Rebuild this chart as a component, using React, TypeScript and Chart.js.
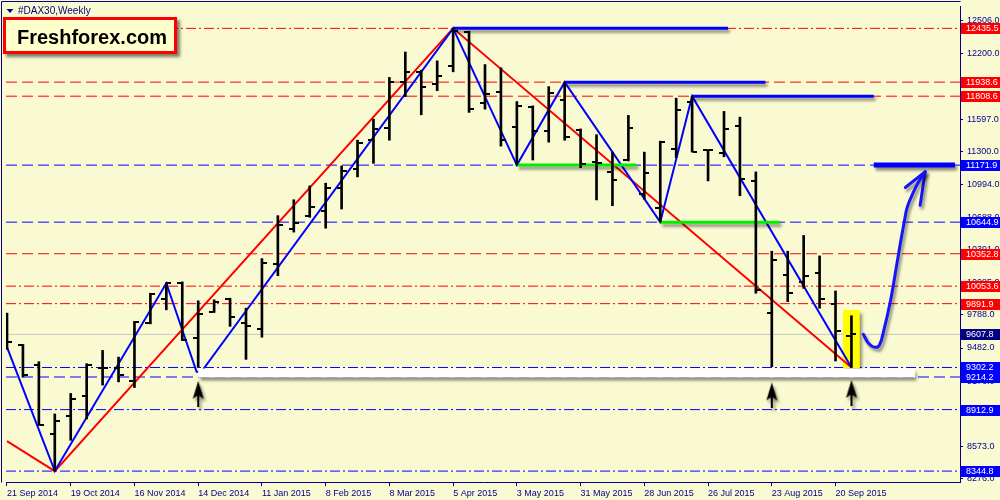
import React, { useEffect, useRef } from 'react';
import { Chart, registerables } from 'chart.js';

Chart.register(...registerables);

// ---------------- data ----------------
// weekly bars, index 0 = week of 21 Sep 2014
const weekTickIndex = [0, 4, 8, 12, 16, 20, 24, 28, 32, 36, 40, 44, 48, 52];
const weekTickLabels = ['21 Sep 2014', '19 Oct 2014', '16 Nov 2014', '14 Dec 2014', '11 Jan 2015', '8 Feb 2015', '8 Mar 2015', '5 Apr 2015', '3 May 2015', '31 May 2015', '28 Jun 2015', '26 Jul 2015', '23 Aug 2015', '20 Sep 2015'];

const openPrices = [9740, 9508, 9325, 8690, 8858, 9035, 9300, 9295, 9178, 9713, 9932, 10085, 9575, 9813, 9936, 9713, 9661, 10257, 10577, 10699, 10751, 10959, 11139, 11402, 11515, 11942, 12034, 11921, 12086, 12401, 11744, 11851, 11524, 11713, 11484, 11774, 11499, 11200, 11109, 11219, 10904, 10773, 11322, 11759, 11307, 11286, 11536, 11026, 9804, 10156, 10095, 10171, 9890, 9597];
const highPrices = [9804, 9515, 9355, 8873, 9062, 9337, 9460, 9398, 9728, 9988, 10085, 10093, 9918, 9927, 9942, 9850, 10308, 10705, 10852, 10980, 11005, 11164, 11402, 11597, 11982, 12217, 12049, 12135, 12435.5, 12410, 12101, 12071, 11759, 11719, 11897, 11938.6, 11506, 11453, 11292, 11631, 11292, 11393, 11790, 11808.6, 11316, 11668, 11615, 11109, 10376, 10376, 10522, 10333, 10009, 9780];
const lowPrices = [9469, 9214.2, 8766, 8344.8, 8629, 8827, 9139, 9169, 9117, 9705, 9835, 9551, 9302.2, 9810, 9682, 9377, 9582, 10150, 10553, 10690, 10589, 10766, 11063, 11188, 11402, 11805, 11637, 11860, 12034, 11659, 11689, 11347, 11171.9, 11219, 11384, 11402, 11148, 10850, 10797, 11210, 10858, 10644.9, 11240, 11292, 11026, 11249, 10889, 9988, 9310, 9911, 10033, 9850, 9362, 9302.2];
const closePrices = [9538, 9231, 8772, 8806, 9010, 9325, 9295, 9233, 9719, 9978, 10079, 9560, 9795, 9911, 9765, 9682, 10271, 10620, 10638, 10782, 10965, 11118, 11377, 11506, 11942, 12034, 11890, 11994, 12415, 11689, 11829, 11402, 11719, 11484, 11842, 11432, 11185, 11195, 11032, 11515, 11096, 11384, 11682, 11295, 11316, 11508, 11041, 10019, 10299, 9994, 10147, 9932, 9637, 9607.8];

const priceTicks = [12506, 12200, 11903, 11597, 11300, 10994, 10688, 10391, 10085, 9788, 9482, 9176, 8879, 8573, 8276];

const levelValues = [12435.5, 11938.6, 11808.6, 11171.9, 10644.9, 10352.8, 10053.6, 9891.9, 9607.8, 9302.2, 9214.2, 8912.9, 8344.8];

const redZigX = [0, 3, 28, 53];
const redZigY = [8622, 8344.8, 12435.5, 9302.2];
const blueZigX = [0, 3, 10, 11.9, 12.2, 28, 32, 35, 41, 43, 53];
const blueZigY = [9490, 8344.8, 10080, 9262, 9262, 12435.5, 11171.9, 11938.6, 10644.9, 11808.6, 9302.2];

const resistX = [[28, 45.25], [35, 47.6], [43, 54.4]];
const resistY = [12435.5, 11938.6, 11808.6];
const targetX = [54.4, 59.5];
const targetY = 11171.9;
const supportX = [[32, 39.5], [41, 48.5]];
const supportY = [11171.9, 10644.9];
const floorX = [12, 57];
const floorY = 9250;

const highlightWeek = 53;
const highlightRange = [9298, 9829];

const arrowWeeks = [12, 48, 53];
const arrowPrices = [9059, 9044, 9068];

const curveX = [53.75, 54.06, 54.44, 54.75, 55.06, 55.44, 55.81, 56.06, 56.31, 56.5, 56.88, 57.19, 57.63];
const curveY = [9609, 9527, 9490, 9508, 9664, 9911, 10223, 10443, 10644, 10782, 10919, 11011, 11112];
const headX = [56.38, 57.63, 57.31];
const headY = [10965, 11112, 10800];

// ---------------- styling ----------------
const X_MIN = -0.0625;
const X_MAX = 59.8125;
const Y_MIN = 8244;
const Y_MAX = 12642;
const BG = '#fafad2';
const NAVY = '#00008b';
const RED = '#ff0000';
const BLUE = '#0000ff';
const AXIS_FONT = '"Liberation Sans", Arial, sans-serif';
const AXIS_SIZE = 9;
const DASH = [11, 5];
const DASHDOT = [10, 3, 2, 3];
const levelLineColors = [RED, RED, RED, BLUE, BLUE, RED, RED, RED, '#c8c8c8', BLUE, BLUE, BLUE, BLUE];
const levelDashes = [DASHDOT, DASH, DASH, DASH, DASH, DASH, DASHDOT, DASHDOT, [], DASHDOT, DASH, DASHDOT, DASHDOT];
const levelBoxColors = [RED, RED, RED, BLUE, BLUE, RED, RED, RED, '#000080', BLUE, BLUE, BLUE, BLUE];

const pts = (xs: number[], ys: number[]) => xs.map((x, k) => ({ x, y: ys[k] }));

function makeArrowImage() {
  const c = document.createElement('canvas');
  c.width = 12;
  c.height = 26;
  const g = c.getContext('2d')!;
  g.fillStyle = '#000000';
  g.beginPath();
  g.moveTo(6, 0);
  g.lineTo(11.5, 18);
  g.lineTo(7, 15);
  g.lineTo(7, 26);
  g.lineTo(5, 26);
  g.lineTo(5, 15);
  g.lineTo(0.5, 18);
  g.closePath();
  g.fill();
  return c;
}

const shadowPlugin = {
  id: 'dsShadow',
  beforeDatasetDraw(chart: any, args: any) {
    const ds = chart.data.datasets[args.index];
    if (ds.shadow) {
      const ctx = chart.ctx;
      ctx.save();
      ctx.shadowColor = 'rgba(0,0,0,0.45)';
      ctx.shadowBlur = 3;
      ctx.shadowOffsetX = 2;
      ctx.shadowOffsetY = 3;
    }
  },
  afterDatasetDraw(chart: any, args: any) {
    const ds = chart.data.datasets[args.index];
    if (ds.shadow) chart.ctx.restore();
    if (ds.ohlcTicks) {
      const ctx = chart.ctx;
      const xs = chart.scales.x;
      const ys = chart.scales.y;
      const a = chart.chartArea;
      ctx.save();
      ctx.beginPath();
      ctx.rect(a.left, a.top, a.right - a.left, a.bottom - a.top);
      ctx.clip();
      ctx.fillStyle = '#000000';
      openPrices.forEach((o, i) => {
        const x = Math.round(xs.getPixelForValue(i));
        const yo = Math.round(ys.getPixelForValue(o));
        const yc = Math.round(ys.getPixelForValue(closePrices[i]));
        ctx.fillRect(x - 5, yo - 1, 4, 2);
        ctx.fillRect(x + 1, yc - 1, 4, 2);
      });
      ctx.restore();
    }
  },
};

const decorPlugin = {
  id: 'decor',
  beforeDraw(chart: any) {
    const ctx = chart.ctx;
    ctx.save();
    ctx.fillStyle = BG;
    ctx.fillRect(0, 0, chart.width, chart.height);
    ctx.restore();
  },
  afterDraw(chart: any) {
    const ctx = chart.ctx;
    const a = chart.chartArea;
    const ys = chart.scales.y;
    ctx.save();
    // frame
    ctx.strokeStyle = NAVY;
    ctx.lineWidth = 1;
    ctx.beginPath();
    ctx.moveTo(1.5, a.bottom + 0.5);
    ctx.lineTo(1.5, 1.5);
    ctx.lineTo(a.right + 0.5, 1.5);
    ctx.stroke();

    // level boxes on the price axis
    ctx.font = `${AXIS_SIZE}px ${AXIS_FONT}`;
    ctx.textBaseline = 'middle';
    ctx.textAlign = 'left';
    levelValues.forEach((v, k) => {
      const y = Math.round(ys.getPixelForValue(v));
      ctx.fillStyle = levelBoxColors[k];
      ctx.fillRect(961, y - 5, 39, 11);
      ctx.fillStyle = '#ffffff';
      ctx.fillText(v.toFixed(1), 966, y + 1);
    });

    // title
    ctx.fillStyle = '#000080';
    ctx.beginPath();
    ctx.moveTo(6.5, 9);
    ctx.lineTo(13.5, 9);
    ctx.lineTo(10, 13);
    ctx.closePath();
    ctx.fill();
    ctx.font = '10px "Liberation Sans", Arial, sans-serif';
    ctx.textBaseline = 'middle';
    ctx.fillText('#DAX30,Weekly', 18, 11.5);

    // logo box
    ctx.save();
    ctx.shadowColor = 'rgba(0,0,0,0.5)';
    ctx.shadowBlur = 3;
    ctx.shadowOffsetX = 3;
    ctx.shadowOffsetY = 3;
    ctx.fillStyle = RED;
    ctx.fillRect(3, 17, 174, 37);
    ctx.restore();
    ctx.fillStyle = '#ffffcc';
    ctx.fillRect(6, 20, 168, 31);
    ctx.fillStyle = '#000000';
    ctx.font = 'bold 20px "Liberation Sans", Arial, sans-serif';
    ctx.textBaseline = 'alphabetic';
    ctx.fillText('Freshforex.com', 17, 43.5);
    ctx.restore();
  },
};

export default function App() {
  const ref = useRef<HTMLCanvasElement>(null);

  useEffect(() => {
    const canvas = ref.current;
    if (!canvas) return;
    const arrowImg = makeArrowImage();
    const line = (extra: any) => ({
      type: 'line',
      pointRadius: 0,
      fill: false,
      tension: 0,
      ...extra,
    });

    const datasets: any[] = [];
    levelValues.forEach((v, k) => {
      datasets.push(line({
        data: pts([X_MIN, X_MAX], [v, v]),
        borderColor: levelLineColors[k],
        borderWidth: 1,
        borderDash: levelDashes[k],
        order: 100,
      }));
    });
    datasets.push({
      type: 'bar',
      data: [{ x: highlightWeek, y: highlightRange }],
      backgroundColor: '#ffff00',
      barThickness: 16,
      grouped: false,
      borderWidth: 0,
      order: 95,
      shadow: true,
    });
    datasets.push(line({ data: pts(redZigX, redZigY), borderColor: RED, borderWidth: 2, order: 70 }));
    datasets.push(line({ data: pts(blueZigX, blueZigY), borderColor: BLUE, borderWidth: 2, order: 69 }));
    datasets.push(line({ data: pts(floorX, [floorY, floorY]), borderColor: '#ffffff', borderWidth: 9, order: 65, shadow: true }));
    supportX.forEach((xs, k) => {
      datasets.push(line({ data: pts(xs, [supportY[k], supportY[k]]), borderColor: '#00ee00', borderWidth: 3, order: 60, shadow: true }));
    });
    resistX.forEach((xs, k) => {
      datasets.push(line({ data: pts(xs, [resistY[k], resistY[k]]), borderColor: BLUE, borderWidth: 3, order: 60, shadow: true }));
    });
    datasets.push(line({ data: pts(targetX, [targetY, targetY]), borderColor: BLUE, borderWidth: 5, order: 60, shadow: true }));
    datasets.push({
      type: 'bar',
      data: highPrices.map((h, i) => ({ x: i, y: [lowPrices[i], h] })),
      backgroundColor: '#000000',
      barThickness: 2,
      grouped: false,
      borderWidth: 0,
      order: 50,
      ohlcTicks: true,
    });
    datasets.push(line({ data: pts(curveX, curveY), borderColor: '#1414ff', borderWidth: 3, tension: 0.4, order: 40, shadow: true, borderCapStyle: 'round', borderJoinStyle: 'round' }));
    datasets.push(line({ data: pts(headX, headY), borderColor: '#1414ff', borderWidth: 3, order: 40, shadow: true, borderCapStyle: 'round', borderJoinStyle: 'round' }));
    datasets.push({
      type: 'line',
      showLine: false,
      data: pts(arrowWeeks, arrowPrices),
      pointStyle: arrowImg,
      pointRadius: 5,
      order: 30,
      shadow: true,
    });

    const chart = new Chart(canvas, {
      type: 'line',
      data: { datasets },
      options: {
        responsive: false,
        animation: false,
        devicePixelRatio: 1,
        events: [],
        layout: { padding: { left: 2, top: 2, right: 0, bottom: 0 } },
        plugins: { legend: { display: false }, tooltip: { enabled: false } },
        scales: {
          x: {
            type: 'linear',
            position: 'bottom',
            min: X_MIN,
            max: X_MAX,
            offset: false,
            afterBuildTicks: (s: any) => { s.ticks = weekTickIndex.map((v) => ({ value: v })); },
            afterFit: (s: any) => { s.height = 18; s.paddingLeft = 0; s.paddingRight = 0; s.paddingTop = 0; s.paddingBottom = 0; },
            ticks: {
              autoSkip: false,
              maxRotation: 0,
              minRotation: 0,
              align: 'start',
              padding: 2,
              color: NAVY,
              font: { family: AXIS_FONT, size: AXIS_SIZE },
              callback: (_v: any, idx: number) => weekTickLabels[idx],
            },
            grid: { drawOnChartArea: false, offset: false, drawTicks: true, tickLength: 4, tickColor: NAVY, color: NAVY },
            border: { display: true, color: NAVY, width: 1 },
          },
          y: {
            type: 'linear',
            position: 'right',
            min: Y_MIN,
            max: Y_MAX,
            beginAtZero: false,
            afterBuildTicks: (s: any) => { s.ticks = priceTicks.map((v) => ({ value: v })); },
            afterFit: (s: any) => { s.width = 40; s.paddingTop = 0; s.paddingBottom = 0; s.paddingLeft = 0; s.paddingRight = 0; },
            ticks: {
              autoSkip: false,
              padding: 4,
              color: NAVY,
              font: { family: AXIS_FONT, size: AXIS_SIZE },
              callback: (v: any) => Number(v).toFixed(1),
            },
            grid: { drawOnChartArea: false, drawTicks: true, tickLength: 3, tickColor: NAVY, color: NAVY },
            border: { display: true, color: NAVY, width: 1 },
          },
        },
      } as any,
      plugins: [shadowPlugin, decorPlugin],
    } as any);

    return () => chart.destroy();
  }, []);

  return (
    <div style={{ position: 'fixed', left: 0, top: 0, width: 1000, height: 500, background: BG }}>
      <canvas ref={ref} width={1000} height={500} style={{ display: 'block' }} />
    </div>
  );
}
